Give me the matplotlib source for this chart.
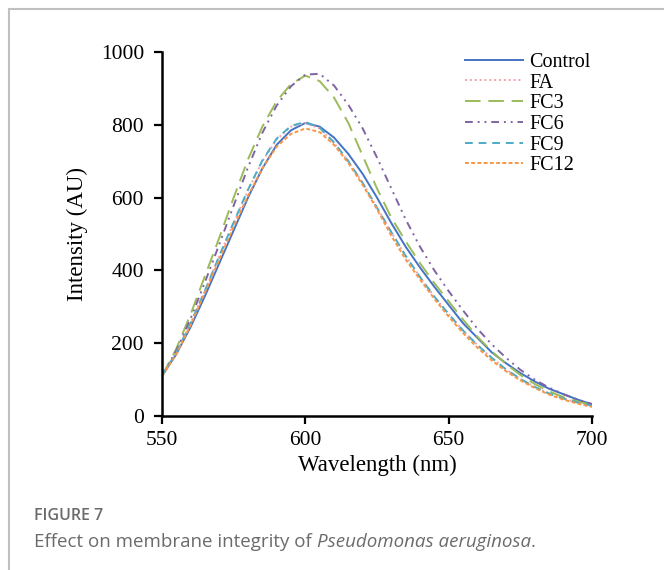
import matplotlib
matplotlib.use("Agg")
import matplotlib.pyplot as plt
from matplotlib.lines import Line2D
import numpy as np

wavelength = list(range(550, 701, 5))
control = [110, 170, 245, 330, 420, 510, 600, 680, 745, 785, 805, 795, 765, 720, 665, 600,
           530, 465, 408, 355, 305, 255, 215, 175, 145, 118, 95, 75, 60, 45, 32]
fa = [110, 175, 255, 345, 440, 530, 620, 700, 760, 795, 805, 790, 750, 700, 640, 572,
      505, 440, 382, 328, 280, 235, 195, 160, 128, 102, 80, 62, 48, 37, 28]
fc3 = [110, 185, 280, 385, 490, 600, 705, 795, 865, 912, 935, 920, 875, 805, 715, 625,
       545, 480, 420, 365, 315, 265, 218, 178, 143, 113, 88, 68, 52, 40, 30]
fc6 = [110, 180, 268, 368, 472, 578, 683, 778, 853, 906, 938, 940, 908, 855, 790, 710,
       625, 540, 465, 400, 343, 290, 240, 197, 160, 127, 100, 78, 60, 45, 33]
fc9 = [110, 175, 255, 345, 440, 532, 622, 702, 762, 797, 808, 792, 752, 700, 640, 572,
       505, 440, 382, 328, 280, 235, 195, 160, 128, 102, 80, 62, 48, 37, 28]
fc12 = [110, 170, 250, 340, 430, 520, 605, 680, 740, 775, 790, 780, 745, 695, 635, 568,
        495, 430, 375, 322, 273, 228, 188, 153, 123, 98, 77, 59, 45, 34, 25]

series = [
    ("Control", control, "#4472C4", "-"),
    ("FA", fa, "#F2A0A8", (0, (1, 1.5))),
    ("FC3", fc3, "#9BBB59", (0, (8, 4))),
    ("FC6", fc6, "#8064A2", (0, (4, 2.5, 1, 2.5, 1, 2.5))),
    ("FC9", fc9, "#4BACC6", (0, (4, 3))),
    ("FC12", fc12, "#F79646", (0, (2, 1.2))),
]

serif = "Liberation Serif"
fig = plt.figure(figsize=(6.64, 5.70), dpi=100)
ax = fig.add_axes([162/664, 1 - 416/570, 430/664, 364/570])

for name, vals, col, ls in series:
    ax.plot(wavelength, vals, color=col, linestyle=ls, linewidth=1.4, label=name)

ax.set_xlim(550, 700)
ax.set_ylim(0, 1000)
ax.set_xticks([550, 600, 650, 700])
ax.set_yticks([0, 200, 400, 600, 800, 1000])
for s in ["top", "right"]:
    ax.spines[s].set_visible(False)
for s in ["left", "bottom"]:
    ax.spines[s].set_linewidth(1.8)
ax.tick_params(direction="out", length=6, width=1.6, labelsize=15.5)
ax.tick_params(axis="y", pad=7)
ax.tick_params(axis="x", pad=5)
for lab in ax.get_xticklabels() + ax.get_yticklabels():
    lab.set_fontfamily(serif)

ax.set_xlabel("Wavelength (nm)", fontsize=16.5, fontfamily=serif, labelpad=3)
ax.set_ylabel("Intensity (AU)", fontsize=16.5, fontfamily=serif, labelpad=9)

leg = ax.legend(loc="upper left", bbox_to_anchor=(303/430, 0.998), frameon=False,
                prop={"family": serif, "size": 14.5}, handlelength=2.9,
                handletextpad=0.3, labelspacing=0.08, borderaxespad=0, borderpad=0)

cap_col = "#6b6b6b"
fig.text(34/664, 1 - 516/570, "FIGURE 7", fontsize=11.5, color=cap_col,
         fontfamily="Open Sans", fontweight="semibold", va="center")
y_cap = 1 - 542/570
cap_size = 13.5
parts = [("Effect on membrane integrity of ", "normal"),
         ("Pseudomonas aeruginosa", "italic"),
         (".", "normal")]
x_cur = 34/664
for txt, st in parts:
    t = fig.text(x_cur, y_cap, txt, fontsize=cap_size, color=cap_col,
                 fontfamily="Open Sans", style=st, va="center")
    fig.canvas.draw()
    x_cur = t.get_window_extent().x1 / fig.bbox.width

fig.add_artist(Line2D([9/664, 1], [1 - 9/570, 1 - 9/570], color="#c0c0c0", lw=1.5,
                      transform=fig.transFigure))
fig.add_artist(Line2D([9/664, 9/664], [0, 1 - 9/570], color="#c0c0c0", lw=1.5,
                      transform=fig.transFigure))

fig.savefig("out.png", dpi=100)
